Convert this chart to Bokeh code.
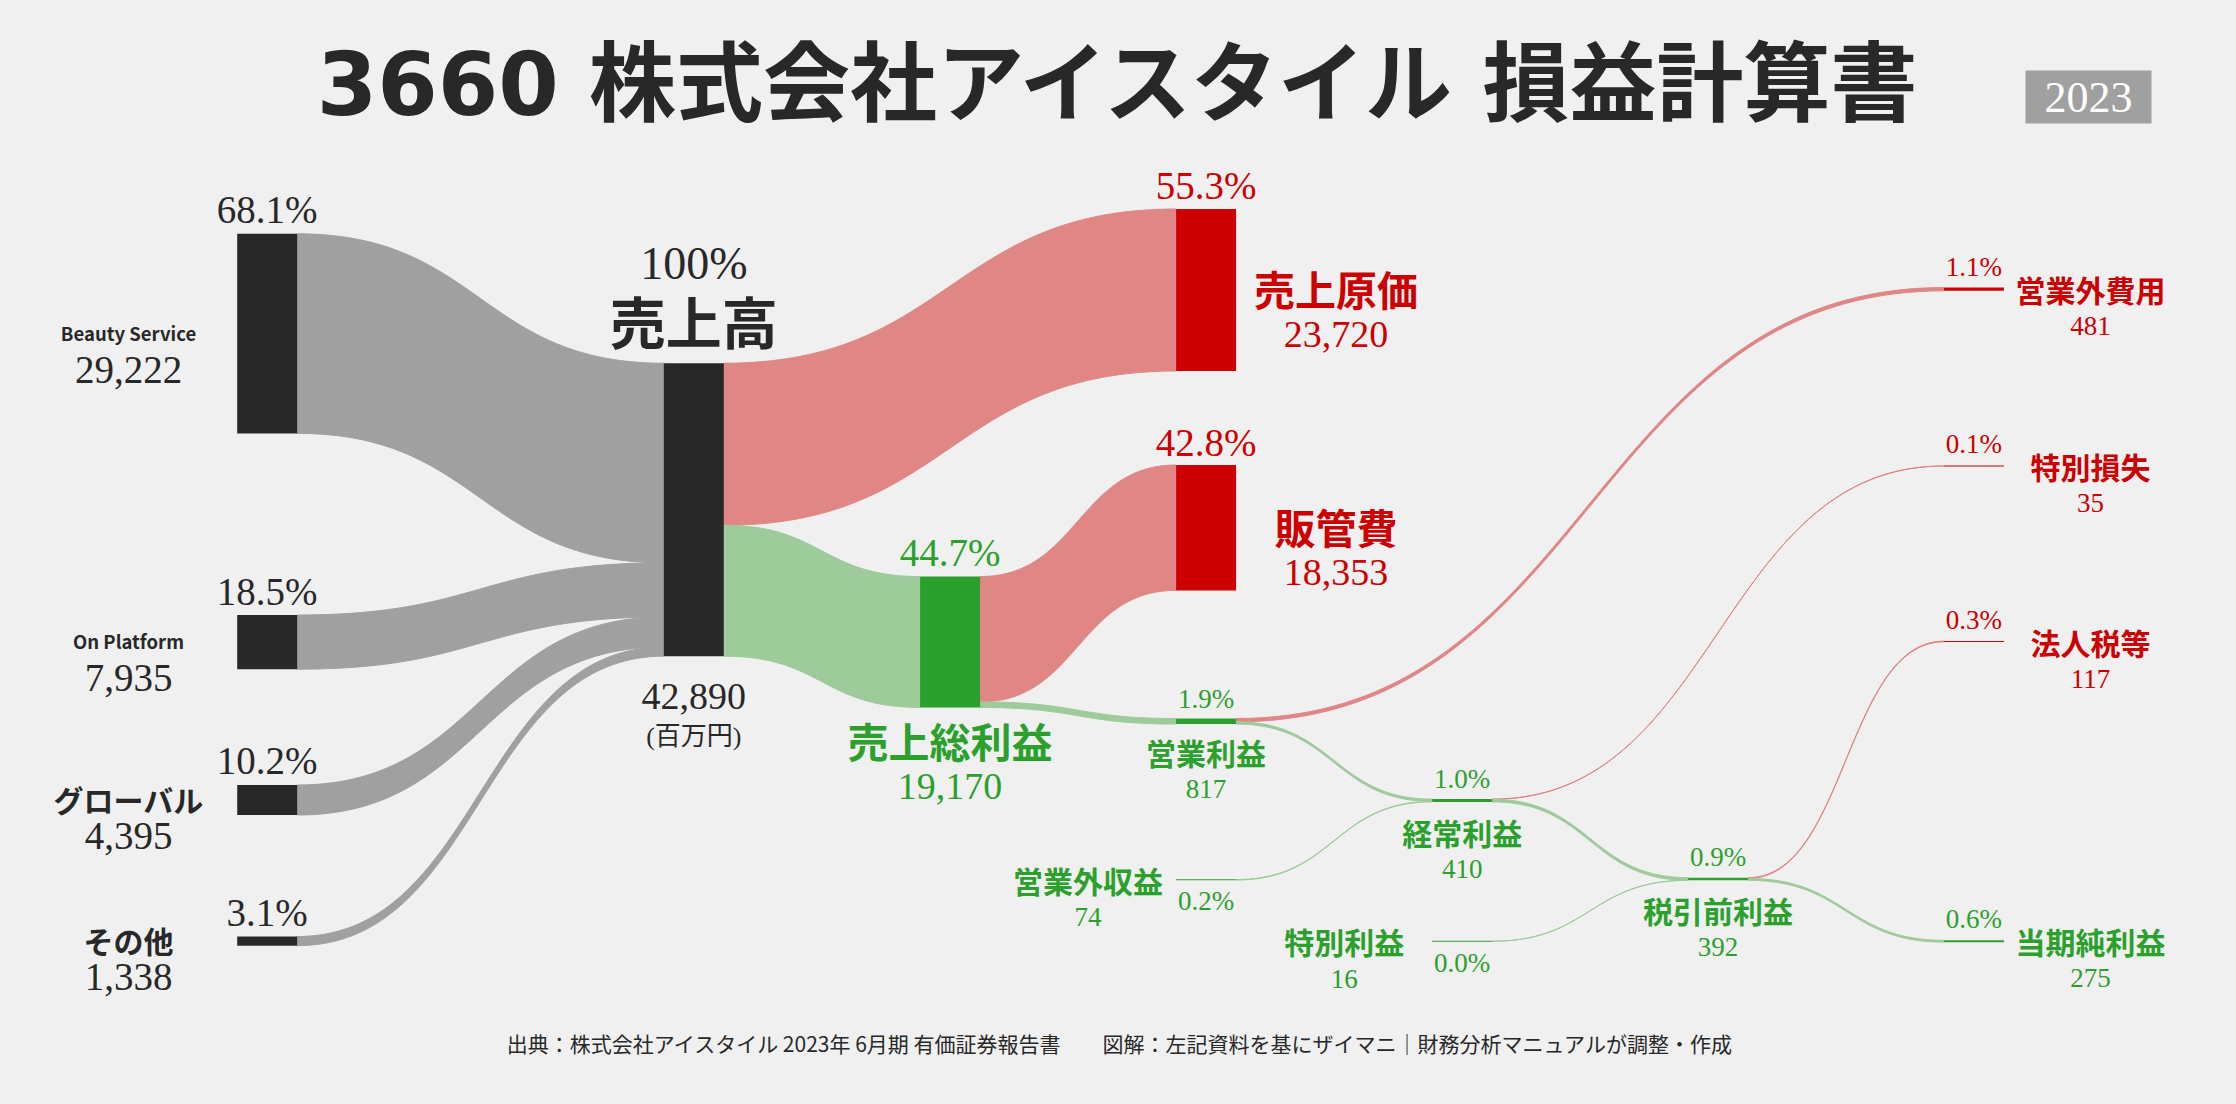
import numpy as np
from bokeh.plotting import figure
from bokeh.models import ColumnDataSource
from bokeh.embed import file_html
from bokeh.resources import INLINE

# ---------------- data ----------------
TITLE = "3660 株式会社アイスタイル 損益計算書"
YEAR_LABEL = "2023"
UNIT_LABEL = "(百万円)"
SOURCE_NOTE = ("出典：株式会社アイスタイル 2023年 6月期 有価証券報告書　　"
               "図解：左記資料を基にザイマニ｜財務分析マニュアルが調整・作成")

node_names = ["Beauty Service", "On Platform", "グローバル", "その他",
              "売上高", "売上原価", "売上総利益", "販管費",
              "営業利益", "営業外収益", "営業外費用", "経常利益",
              "特別利益", "特別損失", "税引前利益", "法人税等", "当期純利益"]
node_values = [29222, 7935, 4395, 1338,
               42890, 23720, 19170, 18353,
               817, 74, 481, 410,
               16, 35, 392, 117, 275]
node_kinds = ["segment", "segment", "segment", "segment",
              "revenue", "cost", "profit", "cost",
              "profit", "income", "cost", "profit",
              "income", "cost", "profit", "cost", "profit"]

link_sources = ["Beauty Service", "On Platform", "グローバル", "その他",
                "売上高", "売上高", "売上総利益", "売上総利益",
                "営業利益", "営業利益", "営業外収益",
                "経常利益", "経常利益", "特別利益",
                "税引前利益", "税引前利益"]
link_targets = ["売上高", "売上高", "売上高", "売上高",
                "売上原価", "売上総利益", "販管費", "営業利益",
                "営業外費用", "経常利益", "経常利益",
                "特別損失", "税引前利益", "税引前利益",
                "法人税等", "当期純利益"]
link_values = [29222, 7935, 4395, 1338,
               23720, 19170, 18353, 817,
               481, 336, 74,
               35, 376, 16,
               117, 275]

# ---------------- layout ----------------
PW, PH = 2220, 1088   # figure size (placed at the page's top-left corner)
K = 0.00683           # px per million yen
NODE_W = 60
COL_X = [236.7, 663.3, 919.6, 1175.6, 1431.7, 1687.6, 1943.4]
node_col = [0, 0, 0, 0, 1, 3, 2, 3, 3, 3, 6, 4, 4, 6, 5, 6, 6]
node_cy = [333.1, 641.6, 799.5, 940.6, 509.2, 289.5, 641.5, 527.2,
           720.8, 879.3, 288.7, 800.0, 940.7, 465.5, 878.5, 641.0, 940.7]
label_style = ["seg", "seg", "seg", "seg", "revenue", "big_right", "big_below", "big_right",
               "small_below", "small_left", "small_right", "small_below",
               "small_left", "small_right", "small_below", "small_right", "small_right"]

BG = "#f0f0f0"
DARK = "#282828"
RED = "#cc0000"
GREEN = "#2ca02c"
GRAY_LINK = "#a0a0a0"
RED_LINK = "#e08785"
GREEN_LINK = "#9dcb9a"
SERIF = "Liberation Serif, Noto Sans CJK JP"
SANS = "Noto Sans CJK JP"
TITLE_FONT = "DejaVu Sans, Noto Sans CJK JP"

node_color = {"segment": DARK, "revenue": DARK, "cost": RED, "profit": GREEN, "income": GREEN}
text_color = {"segment": DARK, "revenue": DARK, "cost": RED, "profit": GREEN, "income": GREEN}

idx = {n: i for i, n in enumerate(node_names)}
revenue_total = node_values[idx["売上高"]]
n_nodes = len(node_names)
x0 = [COL_X[c] for c in node_col]
x1 = [x + NODE_W for x in x0]
h = [v * K for v in node_values]
top = [cy - hh / 2 for cy, hh in zip(node_cy, h)]

# ---------------- figure ----------------
p = figure(width=PW, height=PH, x_range=(0, PW), y_range=(PH, 0),
           x_axis_type=None, y_axis_type=None, min_border=0,
           toolbar_location=None, output_backend="svg",
           background_fill_color=BG, border_fill_color=BG, outline_line_color=None)

# ---------------- links ----------------
out_off = [0.0] * n_nodes
in_off = [0.0] * n_nodes
order = sorted(range(len(link_values)),
               key=lambda j: (idx[link_sources[j]], node_cy[idx[link_targets[j]]]))
src_pos = {}
for j in order:
    s = idx[link_sources[j]]
    w = link_values[j] * K
    src_pos[j] = (top[s] + out_off[s], top[s] + out_off[s] + w)
    out_off[s] += w
order_in = sorted(range(len(link_values)),
                  key=lambda j: (idx[link_targets[j]], node_cy[idx[link_sources[j]]]))
tgt_pos = {}
for j in order_in:
    t = idx[link_targets[j]]
    w = link_values[j] * K
    tgt_pos[j] = (top[t] + in_off[t], top[t] + in_off[t] + w)
    in_off[t] += w

tt = np.linspace(0, 1, 80)
b0, b1, b2, b3 = (1 - tt) ** 3, 3 * (1 - tt) ** 2 * tt, 3 * (1 - tt) * tt ** 2, tt ** 3
lxs, lys, lcol = [], [], []
for j in range(len(link_values)):
    s, t = idx[link_sources[j]], idx[link_targets[j]]
    xa, xb = x1[s], x0[t]
    xm = (xa + xb) / 2
    bx = b0 * xa + (b1 + b2) * xm + b3 * xb
    (sa, sb), (ta, tb) = src_pos[j], tgt_pos[j]
    ytop = (b0 + b1) * sa + (b2 + b3) * ta
    ybot = (b0 + b1) * sb + (b2 + b3) * tb
    lxs.append(np.concatenate([bx, bx[::-1]]).tolist())
    lys.append(np.concatenate([ytop, ybot[::-1]]).tolist())
    if node_kinds[s] == "segment":
        lcol.append(GRAY_LINK)
    elif node_kinds[t] == "cost":
        lcol.append(RED_LINK)
    else:
        lcol.append(GREEN_LINK)
p.patches(xs="xs", ys="ys", fill_color="c", line_color="c", line_width=1,
          source=ColumnDataSource(dict(xs=lxs, ys=lys, c=lcol)))

# ---------------- nodes ----------------
hd = [max(hh, 1.0) for hh in h]
p.quad(left="l", right="r", top="t", bottom="b", fill_color="c", line_color=None,
       source=ColumnDataSource(dict(l=x0, r=x1,
                                    t=[cy - d / 2 for cy, d in zip(node_cy, hd)],
                                    b=[cy + d / 2 for cy, d in zip(node_cy, hd)],
                                    c=[node_color[k] for k in node_kinds])))

# year badge
p.quad(left=[2025], right=[2151], top=[70], bottom=[123], fill_color="#a0a0a0", line_color=None)

# ---------------- texts (all vertically centred) ----------------
T = dict(x=[], y=[], text=[], font=[], size=[], style=[], color=[])


def add(x, y, s, size, color, font=SERIF, style="normal"):
    T["x"].append(x); T["y"].append(y); T["text"].append(s)
    T["font"].append(font); T["size"].append(f"{size}px"); T["style"].append(style)
    T["color"].append(color)


def pct_text(v):
    return "100%" if v == revenue_total else f"{v / revenue_total * 100:.1f}%"


for i in range(n_nodes):
    st = label_style[i]
    col = text_color[node_kinds[i]]
    cx = x0[i] + NODE_W / 2
    cy = node_cy[i]
    tp, bt = cy - h[i] / 2, cy + h[i] / 2
    name, val = node_names[i], node_values[i]
    vtxt, ptxt = f"{val:,}", pct_text(val)
    if st == "seg":
        add(cx, tp - 24, ptxt, 39, col)
        nsize = 18.5 if name.isascii() else 30
        add(128, cy - 1, name, nsize, col, SANS, "bold")
        add(128, cy + 36, vtxt, 39, col)
    elif st == "revenue":
        add(cx, tp - 100, ptxt, 46, col)
        add(cx, tp - 44, name, 56, col, SANS, "bold")
        add(cx, bt + 40, vtxt, 38, col)
        add(cx, bt + 80, UNIT_LABEL, 26, col)
    elif st == "big_below":
        add(cx, tp - 24, ptxt, 39, col)
        add(cx, bt + 33, name, 41, col, SANS, "bold")
        add(cx, bt + 79, vtxt, 38, col)
    elif st == "big_right":
        add(cx, tp - 23, ptxt, 39, col)
        add(x0[i] + 160, cy - 2, name, 41, col, SANS, "bold")
        add(x0[i] + 160, cy + 44.5, vtxt, 38, col)
    elif st == "small_below":
        add(cx, cy - 22, ptxt, 27, col)
        add(cx, cy + 31, name, 30, col, SANS, "bold")
        add(cx, cy + 68, vtxt, 27, col)
    elif st == "small_left":
        add(cx, cy + 21.5, ptxt, 27, col)
        add(x0[i] - 88, cy, name, 30, col, SANS, "bold")
        add(x0[i] - 88, cy + 37.5, vtxt, 27, col)
    elif st == "small_right":
        add(cx, cy - 22, ptxt, 27, col)
        add(x0[i] + 146.5, cy, name, 30, col, SANS, "bold")
        add(x0[i] + 146.5, cy + 37, vtxt, 27, col)

add(1120, 84, TITLE, 87, DARK, TITLE_FONT, "bold")
add(2088, 97, YEAR_LABEL, 44, "#ffffff", SERIF)
add(1120, 1042, SOURCE_NOTE, 21, DARK, SANS)

p.text(x="x", y="y", text="text", text_font="font", text_font_size="size",
       text_font_style="style", text_color="color", text_align="center",
       text_baseline="middle", source=ColumnDataSource(T))

html = file_html(p, INLINE, title="3660 株式会社アイスタイル 損益計算書")
html = html.replace("</head>",
                    f"<style>html, body {{ margin: 0 !important; padding: 0; background: {BG}; }}</style></head>", 1)
open("out.html", "w").write(html)
